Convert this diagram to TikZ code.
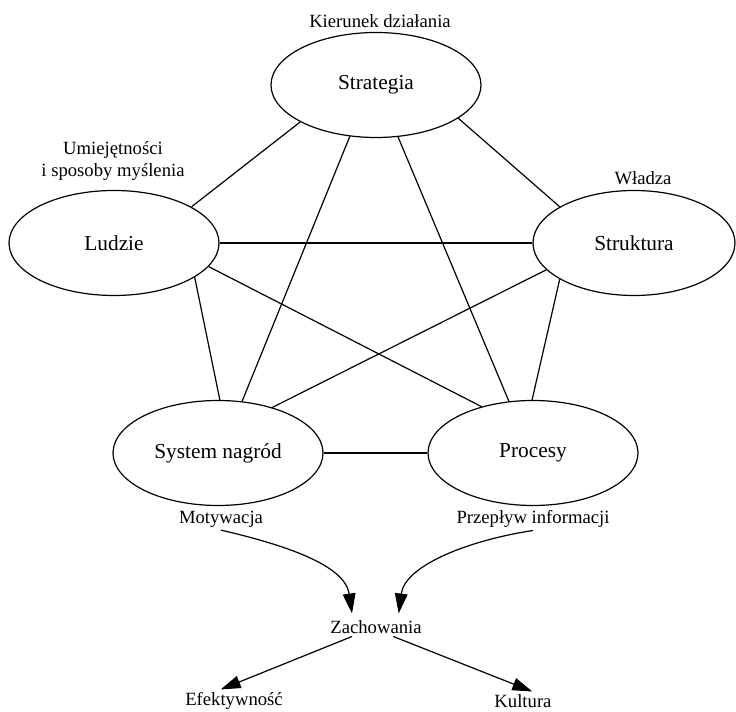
\documentclass[tikz,border=0pt]{standalone}
\usepackage{fontspec}
\setmainfont{Liberation Serif}
\newfontfamily\diagfont{Liberation Serif}
\usetikzlibrary{shapes.geometric,arrows.meta}

\tikzset{
  element/.style={draw, ellipse, line width=0.9pt, minimum width=157.5pt, minimum height=78.75pt, inner sep=0pt, font=\diagfont\fontsize{16}{19}\selectfont},
  caption/.style={font=\diagfont\fontsize{14}{16}\selectfont, align=center, inner sep=2pt},
  link/.style={line width=0.9pt},
  flow/.style={line width=0.9pt, -{Triangle[length=15pt,width=9.5pt]}}
}

\begin{document}
\begin{tikzpicture}[x=0.75pt, y=-0.75pt]
        \useasboundingbox (0,0) rectangle (736,712);
    % The five elements.
        \node[element] (strategia) at (376,85) {Strategia};
        \node[element] (ludzie) at (114,243) {Ludzie};
        \node[element, minimum width=151.5pt] (struktura) at (634,243) {Struktura};
        \node[element] (system) at (218,453) {System nagród};
        \node[element] (procesy) at (533,453) {Procesy};
    % Below nodes are the labels.
        \node[caption] (kierunek) at (380,21) {Kierunek działania};
        \node[caption] (umiej) at (113,161) {Umiejętności\\i sposoby myślenia};
        \node[caption] (wladza) at (643,178) {Władza};
        \node[caption] (motyw) at (221,519) {Motywacja};
        \node[caption] (przeplyw) at (533,519) {Przepływ informacji};
        \node[caption] (zach) at (376,627) {Zachowania};
        \node[caption] (efekt) at (234,701) {Efektywność};
        \node[caption] (kultura) at (523,701) {Kultura};
    % Every element is tied to every other one.
        \draw[link] (strategia.206) -- (ludzie.25);
        \draw[link] (strategia.338) -- (struktura.154);
        \draw[link] (strategia.243) -- (system.65);
        \draw[link] (strategia.293) -- (procesy.115);
        \draw[link] (ludzie.0) -- (struktura.180);
        \draw[link] (ludzie.346) -- (procesy.138);
        \draw[link] (ludzie.337) -- (system.88);
        \draw[link] (struktura.197) -- (system.40);
        \draw[link] (struktura.206) -- (procesy.91);
        \draw[link] (system.0) -- (procesy.180);
    % This draws the arrows to and from the behaviour.
        \draw[flow] (motyw.south) .. controls (285,545) and (345,565) .. ([xshift=-18pt,yshift=3pt]zach.north);
        \draw[flow] (przeplyw.south) .. controls (470,540) and (405,565) .. ([xshift=17pt,yshift=3pt]zach.north);
        \draw[flow] ([xshift=-18pt]zach.south) -- ([xshift=-10pt]efekt.north);
        \draw[flow] ([xshift=13pt]zach.south) -- ([xshift=7pt]kultura.north);
    \end{tikzpicture}
\end{document}
